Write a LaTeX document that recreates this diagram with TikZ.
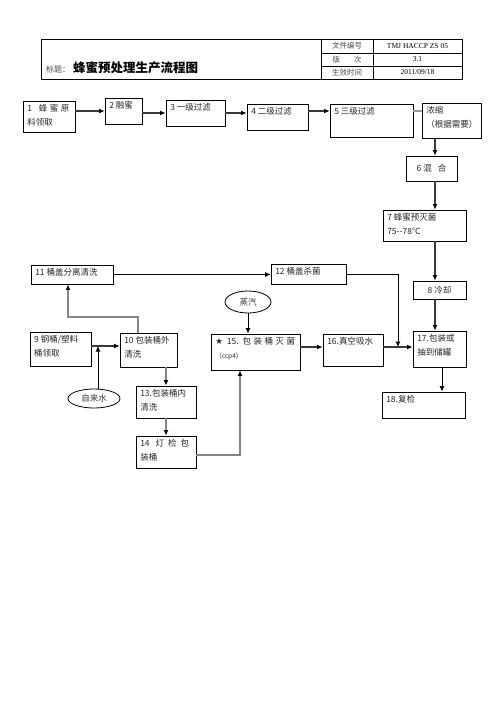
\documentclass[tikz,border=0pt]{standalone}
\usepackage{fontspec}
\setmainfont{Liberation Serif}
\newfontfamily\cjk{Noto Sans CJK SC}
\newfontfamily\symf{DejaVu Sans}
\usetikzlibrary{arrows.meta,calc,shapes.geometric}
\newcommand\BX[6]{\node[bx, minimum width={(#4-#2)*1pt}, minimum height={(#5-#3)*1pt}, label={[lbl]north west:{#6}}] (#1) at ({(#2+#4)/2},{(#3+#5)/2}) {};}
\newcommand\BXC[6]{\node[bx, font=\cjk\fontsize{8.5}{13}\selectfont, text=black!85, minimum width={(#4-#2)*1pt}, minimum height={(#5-#3)*1pt}] (#1) at ({(#2+#4)/2},{(#3+#5)/2}) {#6};}
\begin{document}
\begin{tikzpicture}[x=1pt,y=-1pt,
  bx/.style={draw, line width=0.9pt, inner sep=0pt, rectangle},
  lbl/.style={anchor=north west, inner sep=0pt, font=\cjk\fontsize{8.5}{14}\selectfont, align=left, xshift=4.5pt, yshift=-4pt, text=black!85},
  el/.style={draw, line width=0.8pt, ellipse, inner sep=0pt, font=\cjk\fontsize{8.5}{10}\selectfont, text=black!80},
  tip/.style={-{Latex[length=5.5pt,width=5pt,color=black]}},
  arr/.style={tip, line width=1.3pt, draw=black!78},
  garr/.style={tip, line width=1.5pt, draw=black!48},
  arrthin/.style={tip, line width=0.8pt, draw=black},
  cell/.style={inner sep=0pt, font=\cjk\fontsize{7.5}{9}\selectfont, text=black!70},
  celll/.style={inner sep=0pt, font=\fontsize{7.5}{9}\selectfont},
]
\useasboundingbox[fill=white] (0,0) rectangle (496,702);
% header table
\node[draw, line width=0.8pt, inner sep=0pt, minimum width=421pt, minimum height=40pt] (hdr) at (251.5,59) {};
\draw[line width=0.6pt] (321,39) -- (321,79) (373,39) -- (373,79) (321,53) -- (462,53) (321,66) -- (462,66);
\node[anchor=west, inner sep=0pt, font=\cjk\fontsize{8}{10}\selectfont, text=black!70] (ttlA) at (46,69.5) {标题：};
\node[anchor=west, inner sep=0pt, font=\cjk\bfseries\fontsize{12.5}{14}\selectfont] (ttlB) at (73,67.5) {蜂蜜预处理生产流程图};
\node[cell] (h1a) at (347,46) {文件编号};
\node[celll] (h1b) at (417.5,46) {TMJ HACCP ZS 05};
\node[cell] (h2a) at (347,59.5) {版\hspace{14pt}次};
\node[celll] (h2b) at (417.5,59.5) {3.1};
\node[cell] (h3a) at (347,72.5) {生效时间};
\node[celll] (h3b) at (417.5,72.5) {2011/09/18};
% process boxes
\BX{b1}{23}{101}{75}{132}{1\hspace{7pt}蜂\hspace{2.5pt}蜜\hspace{2.5pt}原\\料领取}
\BX{b2}{105}{98}{142}{124}{2 融蜜}
\BX{b3}{166}{100}{225}{126}{3 一级过滤}
\BX{b4}{247}{104}{308}{130}{4 二级过滤}
\BX{b5}{330}{104}{413}{137}{5 三级过滤}
\BX{bn}{422}{103}{481}{138}{浓缩\\（根据需要）}
\BXC{b6}{406}{156}{457}{181}{6 混\hspace{6pt}合}
\BX{b7}{383}{210}{466}{241}{7 蜂蜜预灭菌\\75-{}-78℃}
\BXC{b8}{413}{281}{466}{299}{8 冷却}
\BX{b17}{413}{331}{466}{367}{17.包装或\\抽到储罐}
\BX{b18}{382}{392}{465}{418}{18.复检}
\BX{b12}{271}{264}{346}{284}{12 桶盖杀菌}
\BX{b11}{31}{265}{113}{284}{11 桶盖分离清洗}
\BX{b16}{323}{334}{383}{366}{16.真空吸水}
\BX{b15}{211}{334}{300}{370}{{\symf\fontsize{8.5}{8}\selectfont ★}\hspace{4pt}15.\hspace{4pt}包\hspace{2.5pt}装\hspace{2.5pt}桶\hspace{2.5pt}灭\hspace{2.5pt}菌\\{\fontsize{6.5}{8}\selectfont （ccp4）}}
\BX{b9}{30}{332}{91}{366}{9 钢桶/塑料\\桶领取}
\BX{b10}{120}{333}{177}{367}{10 包装桶外\\清洗}
\BX{b13}{136}{386}{196}{418}{13.包装桶内\\清洗}
\BX{b14}{136}{436}{196}{468}{14\hspace{6pt}灯\hspace{4pt}检\hspace{4pt}包\\装桶}
\node[el, minimum width=46pt, minimum height=22pt] (steam) at (248,302) {蒸汽};
\node[el, minimum width=52pt, minimum height=19pt] (water) at (94,398.5) {自来水};
% helper coordinates
\coordinate (cA) at (435,0);
\coordinate (cB) at (442,0);
\coordinate (r1) at (0,111);
\coordinate (r2) at (0,347);
\coordinate (r3) at (0,346);
\coordinate (j) at (398,347);
\coordinate (wcol) at (98,0);
\coordinate (k1) at (138,317);
\coordinate (k2) at (68,317);
\coordinate (k3) at (240,455);
% connectors
\draw[arr] (b1.east|-b2.west) -- (b2.west);
\draw[arr] (b2.east|-b3.west) -- (b3.west);
\draw[arr] (b3.east) -- (b3.east-|b4.west);
\draw[arr] (b4.east|-r1) -- (b5.west|-r1);
\draw[line width=1.3pt, draw=black!40] (b5.east|-r1) -- (bn.west|-r1);
\draw[arr] (cA|-bn.south) -- (cA|-b6.north);
\draw[arr] (cA|-b6.south) -- (cA|-b7.north);
\draw[arr] (cA|-b7.south) -- (cA|-b8.north);
\draw[arr] (cA|-b8.south) -- (cA|-b17.north);
\draw[arrthin] (cB|-b17.south) -- (cB|-b18.north);
\draw[arrthin] (b11.east) -- (b11.east-|b12.west);
\draw[arrthin] (b12.east) -| (j);
\draw[arr] (b15.east|-r2) -- (b16.west|-r2);
\draw[arr] (b16.east|-r2) -- (b17.west|-r2);
\draw[arrthin] (steam.south) -- (steam.south|-b15.north);
\draw[arr] (b9.east|-r3) -- (b10.west|-r3);
\draw[arrthin] (wcol|-water.north) -- (wcol|-r3);
\draw[garr] (k1|-b10.north) -- (k1) -- (k2) -- (k2|-b11.south);
\draw[garr] (b13.north|-b10.south) -- (b13.north);
\draw[garr] (b13.south) -- (b14.north);
\draw[garr] (b14.east|-k3) -- (k3) -- (k3|-b15.south);
\end{tikzpicture}
\end{document}
